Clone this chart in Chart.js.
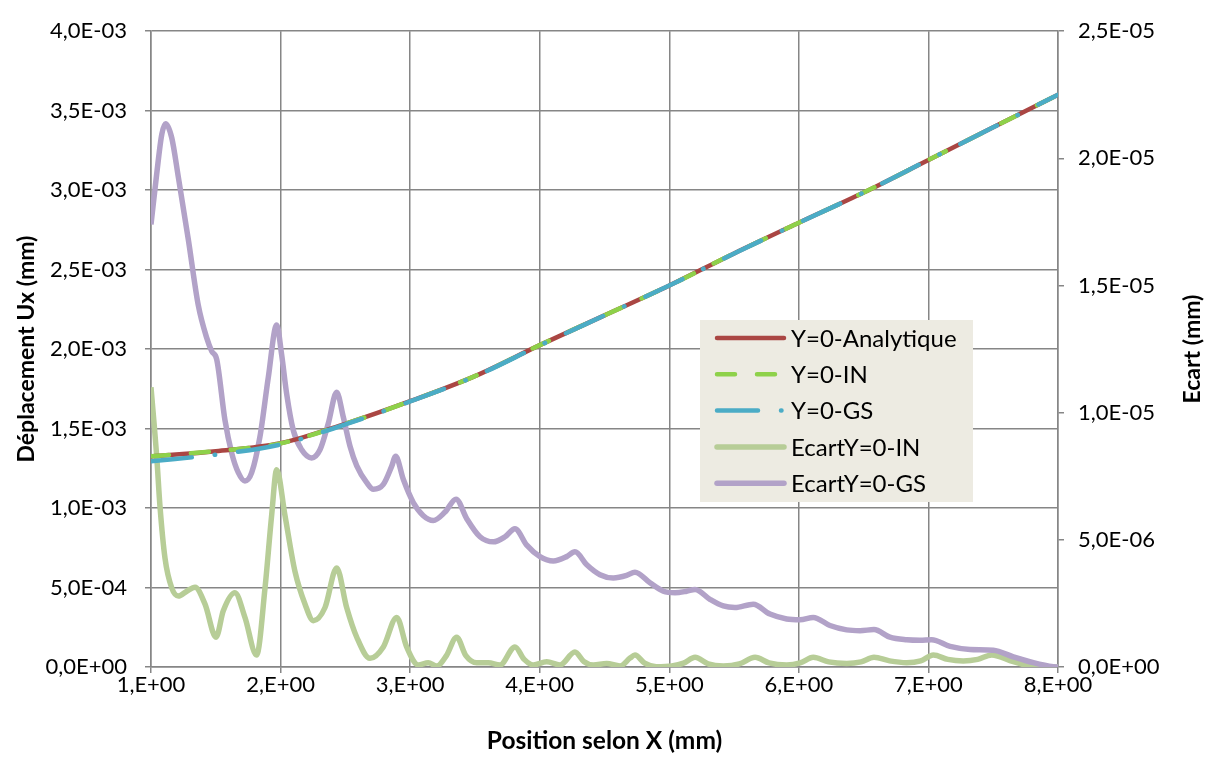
<!DOCTYPE html>
<html>
<head>
<meta charset="utf-8">
<script src="https://cdn.jsdelivr.net/npm/chart.js@4.4.1/dist/chart.umd.min.js"></script>
<style>
  html, body { margin: 0; padding: 0; background: #ffffff; }
  #wrap { width: 1214px; height: 760px; }
</style>
</head>
<body>
<div id="wrap"><canvas id="chart" width="1214" height="760"></canvas></div>
<script>
// Displacement Ux along X, left axis (values in 1e-3 mm)
const xUx = [1.0, 1.5, 2.0, 2.5, 3.0, 3.5, 4.0, 4.5, 5.0, 5.5, 6.0, 6.5, 7.0, 7.5, 8.0];
const uxAnalytique = [1.325, 1.358, 1.408, 1.530, 1.672, 1.830, 2.025, 2.212, 2.400, 2.602, 2.795, 2.985, 3.190, 3.395, 3.600];
const uxIN = [1.326, 1.358, 1.407, 1.530, 1.672, 1.830, 2.025, 2.212, 2.400, 2.602, 2.795, 2.985, 3.190, 3.395, 3.600];
const uxGS = [1.294, 1.336, 1.400, 1.526, 1.671, 1.828, 2.023, 2.212, 2.400, 2.601, 2.795, 2.985, 3.190, 3.395, 3.600];

// Ecart (difference), right axis (values in 1e-5 mm)
const xEcartIN = [1.00, 1.044, 1.069, 1.108, 1.16, 1.211, 1.276, 1.34, 1.417, 1.502, 1.558, 1.648, 1.725, 1.815, 1.88, 1.931, 1.97,
  2.034, 2.111, 2.189, 2.253, 2.343, 2.433,
  2.51, 2.588, 2.69, 2.793, 2.896,
  2.973, 3.063, 3.14, 3.205, 3.28, 3.359,
  3.43, 3.514, 3.603, 3.694, 3.809,
  3.88, 3.95, 4.054, 4.157, 4.272,
  4.34, 4.414, 4.517, 4.62, 4.697, 4.735,
  4.81, 4.9, 5.019, 5.11, 5.199,
  5.30, 5.417, 5.54, 5.662,
  5.77, 5.906, 6.01, 6.111,
  6.23, 6.369, 6.48, 6.58,
  6.70, 6.832, 6.94, 7.038,
  7.15, 7.269, 7.38, 7.488,
  7.655, 7.836, 8.0];
const ecartIN = [1.10, 0.828, 0.634, 0.428, 0.311, 0.279, 0.298, 0.314, 0.247, 0.117, 0.221, 0.292, 0.195, 0.047, 0.311, 0.596, 0.776,
  0.596, 0.376, 0.247, 0.182, 0.234, 0.389,
  0.234, 0.117, 0.034, 0.079, 0.195,
  0.079, 0.008, 0.017, 0.004, 0.045, 0.117,
  0.045, 0.017, 0.017, 0.008, 0.079,
  0.030, 0.008, 0.021, 0.008, 0.059,
  0.022, 0.008, 0.014, 0.004, 0.035, 0.047,
  0.015, 0.001, 0.004, 0.015, 0.038,
  0.012, 0.004, 0.012, 0.038,
  0.016, 0.008, 0.016, 0.038,
  0.020, 0.014, 0.020, 0.038,
  0.024, 0.017, 0.024, 0.047,
  0.030, 0.024, 0.030, 0.047,
  0.021, 0.000, 0.000];

const xEcartGS = [1.00, 1.044, 1.083, 1.113, 1.16, 1.211, 1.288, 1.365, 1.43, 1.469, 1.507, 1.571, 1.623, 1.674, 1.725, 1.777, 1.841, 1.905, 1.97,
  2.008, 2.047, 2.098, 2.163, 2.24, 2.304, 2.368, 2.433,
  2.484, 2.536, 2.588, 2.665, 2.716, 2.793, 2.858, 2.888,
  2.947, 3.024, 3.10, 3.179, 3.269, 3.354,
  3.437, 3.539, 3.642, 3.732, 3.809,
  3.90, 4.002, 4.105, 4.208, 4.272,
  4.363, 4.465, 4.568, 4.671, 4.735,
  4.851, 4.954, 5.044, 5.134, 5.199,
  5.314, 5.417, 5.507, 5.648,
  5.777, 5.906, 6.009, 6.111,
  6.24, 6.369, 6.472, 6.58,
  6.703, 6.832, 6.935, 7.025,
  7.167, 7.321, 7.501,
  7.655, 7.81, 7.964, 8.0];
const ecartGS = [1.740, 1.939, 2.094, 2.136, 2.081, 1.926, 1.681, 1.422, 1.294, 1.241, 1.210, 0.970, 0.841, 0.764, 0.731, 0.764, 0.906, 1.138, 1.345,
  1.229, 1.074, 0.931, 0.854, 0.822, 0.854, 0.957, 1.080,
  0.983, 0.868, 0.791, 0.725, 0.699, 0.718, 0.790, 0.829,
  0.738, 0.647, 0.596, 0.576, 0.609, 0.660,
  0.583, 0.512, 0.492, 0.512, 0.544,
  0.479, 0.434, 0.417, 0.434, 0.453,
  0.402, 0.363, 0.350, 0.360, 0.373,
  0.331, 0.298, 0.292, 0.298, 0.305,
  0.266, 0.240, 0.234, 0.247,
  0.208, 0.189, 0.186, 0.195,
  0.163, 0.146, 0.143, 0.147,
  0.117, 0.107, 0.105, 0.107,
  0.081, 0.069, 0.066,
  0.040, 0.017, 0.001, 0.000];

const UX_UNIT = 1e-3;
const ECART_UNIT = 1e-5;

const FONT = 'Lato, "Open Sans", sans-serif';
const GRID = '#868686';

function pts(xs, ys, unit) {
  return xs.map((x, i) => ({ x: x, y: ys[i] * unit }));
}

// 4,0E-03 style labels
function fmtE(v) {
  let parts = v.toExponential(1).split('e');
  let exp = parseInt(parts[1], 10);
  let sign = exp < 0 ? '-' : '+';
  return parts[0].replace('.', ',') + 'E' + sign + String(Math.abs(exp)).padStart(2, '0');
}

// legend drawn inside the plot, as in the original
const legendBox = {
  id: 'legendBox',
  afterDatasetsDraw(chart) {
    const ctx = chart.ctx;
    ctx.save();
    ctx.fillStyle = '#edebe2';
    ctx.fillRect(700, 320, 273, 182);
    [0, 1, 2, 3, 4].forEach((i) => {
      const ds = chart.data.datasets[i];
      const y = 338 + i * 36.3;
      ctx.beginPath();
      ctx.strokeStyle = ds.borderColor;
      ctx.lineWidth = ds.borderWidth;
      ctx.lineCap = 'round';
      ctx.setLineDash(ds.borderDash || []);
      ctx.moveTo(717, y);
      ctx.lineTo(784, y);
      ctx.stroke();
      ctx.setLineDash([]);
      ctx.fillStyle = '#000';
      ctx.font = '24px ' + FONT;
      ctx.textBaseline = 'middle';
      ctx.textAlign = 'left';
      ctx.fillText(ds.label, 791, y + 1);
    });
    ctx.restore();
  }
};

// right axis title reads bottom to top
const rightTitle = {
  id: 'rightTitle',
  afterDraw(chart) {
    const ctx = chart.ctx;
    const area = chart.chartArea;
    ctx.save();
    ctx.translate(1193, (area.top + area.bottom) / 2);
    ctx.rotate(-Math.PI / 2);
    ctx.font = 'bold 23px ' + FONT;
    ctx.fillStyle = '#000';
    ctx.textAlign = 'center';
    ctx.textBaseline = 'middle';
    ctx.fillText('Ecart (mm)', 0, 0);
    ctx.restore();
  }
};

new Chart(document.getElementById('chart').getContext('2d'), {
  type: 'line',
  data: {
    datasets: [
      {
        label: 'Y=0-Analytique',
        data: pts(xUx, uxAnalytique, UX_UNIT),
        yAxisID: 'y',
        borderColor: '#aa4643',
        borderWidth: 4.5,
        cubicInterpolationMode: 'monotone',
        order: 3
      },
      {
        label: 'Y=0-IN',
        data: pts(xUx, uxIN, UX_UNIT),
        yAxisID: 'y',
        borderColor: '#8ed14a',
        borderWidth: 4.5,
        borderDash: [18, 22],
        borderCapStyle: 'round',
        cubicInterpolationMode: 'monotone',
        order: 2
      },
      {
        label: 'Y=0-GS',
        data: pts(xUx, uxGS, UX_UNIT),
        yAxisID: 'y',
        borderColor: '#4bacc6',
        borderWidth: 4.5,
        borderDash: [41, 23, 0.5, 23],
        borderCapStyle: 'round',
        cubicInterpolationMode: 'monotone',
        order: 1
      },
      {
        label: 'EcartY=0-IN',
        data: pts(xEcartIN, ecartIN, ECART_UNIT),
        yAxisID: 'y2',
        borderColor: '#b7cd97',
        borderWidth: 5.5,
        borderJoinStyle: 'round',
        cubicInterpolationMode: 'monotone',
        order: 5
      },
      {
        label: 'EcartY=0-GS',
        data: pts(xEcartGS, ecartGS, ECART_UNIT),
        yAxisID: 'y2',
        borderColor: '#b2a2c8',
        borderWidth: 5.5,
        borderJoinStyle: 'round',
        cubicInterpolationMode: 'monotone',
        order: 4
      }
    ]
  },
  options: {
    responsive: false,
    devicePixelRatio: 1,
    animation: false,
    layout: { padding: { top: 22, left: 0, right: 0, bottom: 0 } },
    elements: { point: { radius: 0 } },
    plugins: {
      legend: { display: false },
      tooltip: { enabled: false }
    },
    scales: {
      x: {
        type: 'linear',
        min: 1,
        max: 8,
        afterFit: (s) => { s.height = 93; },
        ticks: {
          stepSize: 1,
          color: '#000',
          padding: -1,
          font: { family: FONT, size: 22 },
          callback: (v) => v + ',E+00'
        },
        grid: { color: GRID, lineWidth: 1.5, tickLength: 6 },
        border: { color: GRID, width: 1.5 },
        title: {
          display: true,
          text: 'Position selon X (mm)',
          color: '#000',
          font: { family: FONT, size: 24.5, weight: 'bold' },
          padding: { top: 0, bottom: 4 }
        }
      },
      y: {
        position: 'left',
        min: 0,
        max: 0.004,
        afterFit: (s) => { s.width = 151; },
        ticks: {
          stepSize: 0.0005,
          color: '#000',
          padding: 18,
          font: { family: FONT, size: 22 },
          callback: (v) => fmtE(v)
        },
        grid: { color: GRID, lineWidth: 1.5, tickLength: 6 },
        border: { color: GRID, width: 1.5 },
        title: {
          display: true,
          text: 'Déplacement Ux (mm)',
          color: '#000',
          font: { family: FONT, size: 23, weight: 'bold' },
          padding: { top: 13, bottom: 0 }
        }
      },
      y2: {
        position: 'right',
        min: 0,
        max: 2.5e-5,
        afterFit: (s) => { s.width = 156; },
        ticks: {
          stepSize: 5e-6,
          color: '#000',
          padding: 14,
          font: { family: FONT, size: 22 },
          callback: (v) => fmtE(v)
        },
        grid: { drawOnChartArea: false, color: GRID, lineWidth: 1.5, tickLength: 6 },
        border: { color: GRID, width: 1.5 }
      }
    }
  },
  plugins: [legendBox, rightTitle]
});
</script>
</body>
</html>
